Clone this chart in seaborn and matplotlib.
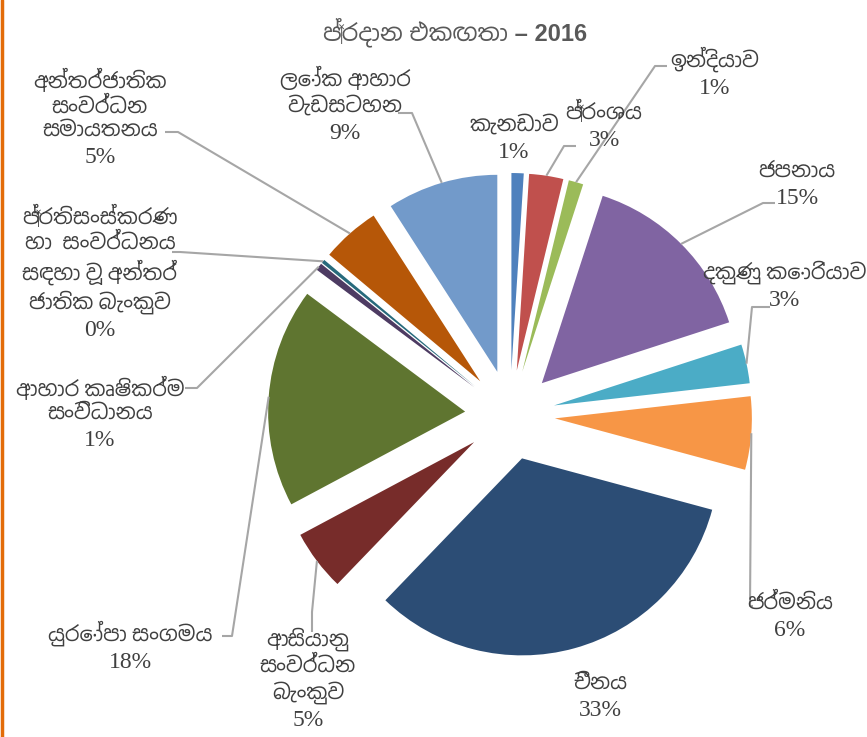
import numpy as np
import matplotlib
matplotlib.use("Agg")
import matplotlib.pyplot as plt
import seaborn as sns
from matplotlib import font_manager
from matplotlib.ft2font import FT2Font

# Data
title = "ප්‍රදාන එකඟතා – 2016"
labels = ["කැනඩාව", "ප්‍රංශය", "ඉන්දියාව", "ජපනාය", "දකුණු කොරියාව", "ජර්මනිය", "චීනය",
          "ආසියානු\nසංවර්ධන\nබැංකුව", "යුරෝපා සංගමය", "ආහාර කෘෂිකර්ම\nසංවිධානය",
          "ප්‍රතිසංස්කරණ\nහා  සංවර්ධනය\nසඳහා වූ අන්තර්\nජාතික බැංකුව",
          "අන්තර්ජාතික\nසංවර්ධන\nසමායතනය", "ලෝක ආහාර\nවැඩසටහන"]
shares = [1.0, 2.8, 1.2, 15.0, 3.2, 6.0, 33.0, 5.0, 18.0, 0.6, 0.3, 4.8, 9.1]
colors = ["#4F81BD", "#C0504D", "#9BBB59", "#8064A2", "#4BACC6", "#F79646", "#2C4D75",
          "#772C2A", "#5F7530", "#4D3B62", "#276A7C", "#B65708", "#729ACA"]

# Layout (pixel positions, origin top-left): centre of the percentage line
W, H = 867, 737
pct_pos = [(514, 152), (604, 140), (715, 88), (797, 198), (785, 300), (790, 630),
           (600, 710), (308, 720), (130, 662), (100, 440), (100, 330), (100, 157), (345, 133)]
leader_start = [None, (576, 146), (667, 66), (775, 203), (770, 307), (753, 606), None,
                (312, 632), (222, 636), (185, 388), (172, 252), (165, 132), (398, 113)]
leader_elbow = [None, (564, 146), (655, 66), (763, 203), (752, 307), (750, 606), None,
                (312, 612), (232, 636), (197, 388), (180, 252), (178, 132), (412, 113)]

sns.set_theme(style="white")


def sinhala_fonts():
    found = []
    for f in font_manager.fontManager.ttflist:
        try:
            if 0x0D9A in FT2Font(f.fname).get_charmap() and f.name not in found:
                found.append(f.name)
        except Exception:
            continue

    def rank(n):
        return ("Sinhala" not in n, "Mono" in n, n)
    return sorted(found, key=rank)


sin_fonts = sinhala_fonts()
serif_fam = ["Liberation Serif"] + sin_fonts[:1] + ["DejaVu Sans"]
sans_fam = ["Liberation Sans"] + sin_fonts[:1] + ["DejaVu Sans"]
plt.rcParams["font.family"] = serif_fam

fig = plt.figure(figsize=(W / 100, H / 100), dpi=100)
ax = fig.add_axes([0, 0, 1, 1])


def px(p):
    return (p[0], H - p[1])


radius = 197
explode = [45] * len(shares)
wedges, _ = ax.pie(shares, colors=colors, startangle=90, counterclock=False,
                   explode=explode, radius=radius, center=px((510, 415)),
                   wedgeprops=dict(linewidth=0), frame=True)
ax.set_xlim(0, W)
ax.set_ylim(0, H)
ax.set_aspect("equal")
ax.axis("off")

total = sum(shares)
txt_color = "#404040"
line_color = "#A6A6A6"
for i, w in enumerate(wedges):
    x, y = pct_pos[i]
    pct = f"{round(shares[i] / total * 100)}%"
    ax.text(*px((x, y)), pct, ha="center", va="center", fontsize=17,
            color=txt_color, family=serif_fam)
    ax.text(*px((x, y - 21)), labels[i], ha="center", va="baseline", fontsize=15,
            color=txt_color, linespacing=1.3, family=serif_fam,
            multialignment="center")
    if leader_start[i] is not None:
        mid = np.deg2rad((w.theta1 + w.theta2) / 2)
        cx, cy = w.center
        end = (cx + w.r * np.cos(mid), cy + w.r * np.sin(mid))
        pts = [px(leader_start[i]), px(leader_elbow[i]), end]
        ax.plot([p[0] for p in pts], [p[1] for p in pts], color=line_color, lw=1.5,
                solid_capstyle="butt")

ax.text(*px((455, 32)), title, ha="center", va="center", fontsize=17,
        fontweight="bold", color="#595959", family=sans_fam)

# orange frame edge on the left
fig.add_artist(plt.Line2D([0.002, 0.002], [0, 1], color="#E36C09", lw=2.5,
                          transform=fig.transFigure))

fig.savefig("out.png", dpi=100)
